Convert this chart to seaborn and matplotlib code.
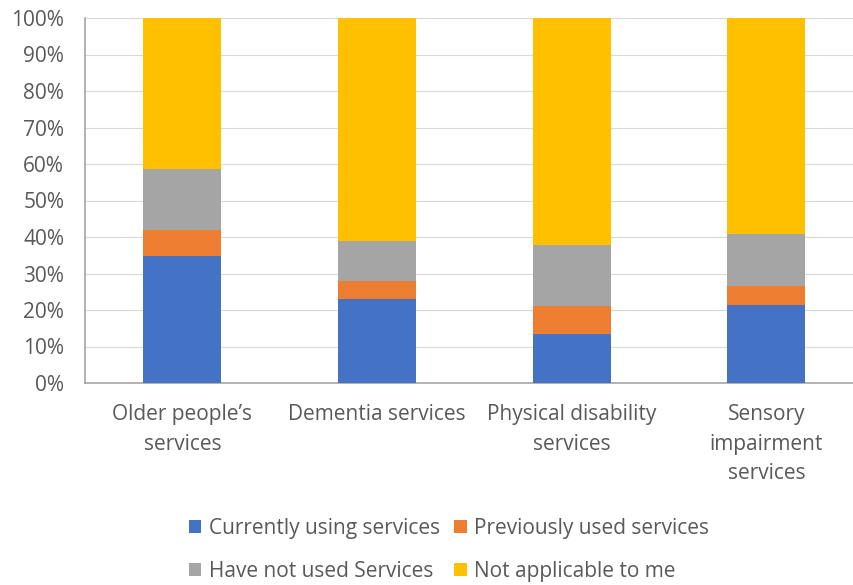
import matplotlib
matplotlib.use("Agg")
import matplotlib.pyplot as plt
import seaborn as sns
import pandas as pd
import numpy as np
from matplotlib.patches import Patch
from matplotlib.ticker import PercentFormatter

categories = ["Older people\u2019s\nservices", "Dementia services",
              "Physical disability\nservices", "Sensory\nimpairment\nservices"]
series = ["Currently using services", "Previously used services",
          "Have not used Services", "Not applicable to me"]
currently = [34.8, 22.9, 13.3, 21.4]
previously = [7.1, 5.1, 7.8, 5.3]
not_used = [16.7, 11.0, 16.8, 14.1]
not_applicable = [41.4, 61.0, 62.1, 59.2]
colors = ["#4472C4", "#ED7D31", "#A5A5A5", "#FFC000"]

sns.set_theme(style="white")
plt.rcParams['font.family'] = ['Open Sans', 'DejaVu Sans']
text_color = "#595959"

values = np.array([currently, previously, not_used, not_applicable])
cum = np.cumsum(values, axis=0)

fig = plt.figure(figsize=(8.54, 5.85), dpi=100)
ax = fig.add_axes([85/854, 1-383/585, 1-85/854, 365/585])

for i in range(len(series)-1, -1, -1):
    df = pd.DataFrame({"cat": categories, "val": cum[i]})
    sns.barplot(data=df, x="cat", y="val", color=colors[i], ax=ax,
                width=0.4, saturation=1, edgecolor="none", zorder=3)

ax.set_ylim(0, 100)
ax.set_xlim(-0.5, 3.45)
ax.set_yticks(np.arange(0, 101, 10))
ax.yaxis.set_major_formatter(PercentFormatter(decimals=0))
ax.grid(axis="y", color="#D9D9D9", linewidth=0.8, zorder=0)
ax.set_axisbelow(True)
ax.set_xlabel("")
ax.set_ylabel("")
for s in ["top", "right"]:
    ax.spines[s].set_visible(False)
for s in ["left", "bottom"]:
    ax.spines[s].set_color("#A6A6A6")
    ax.spines[s].set_linewidth(1.2)
ax.tick_params(axis="both", colors=text_color, labelsize=15, length=0)
ax.tick_params(axis="y", pad=15)
ax.tick_params(axis="x", pad=15)
for lbl in ax.get_xticklabels():
    lbl.set_linespacing(1.55)
for lbl in ax.get_yticklabels():
    lbl.set_color(text_color)

order = [0, 2, 1, 3]
handles = [Patch(facecolor=colors[k], edgecolor="none") for k in order]
labels = [series[k] for k in order]
leg = fig.legend(handles, labels, loc="center", bbox_to_anchor=(449/854, 1-550/585),
                 ncol=2, frameon=False, fontsize=15, handlelength=0.6, handleheight=0.6,
                 handletextpad=0.35, columnspacing=0.7, labelspacing=1.05,
                 labelcolor=text_color)

fig.savefig("out.png", dpi=100)
